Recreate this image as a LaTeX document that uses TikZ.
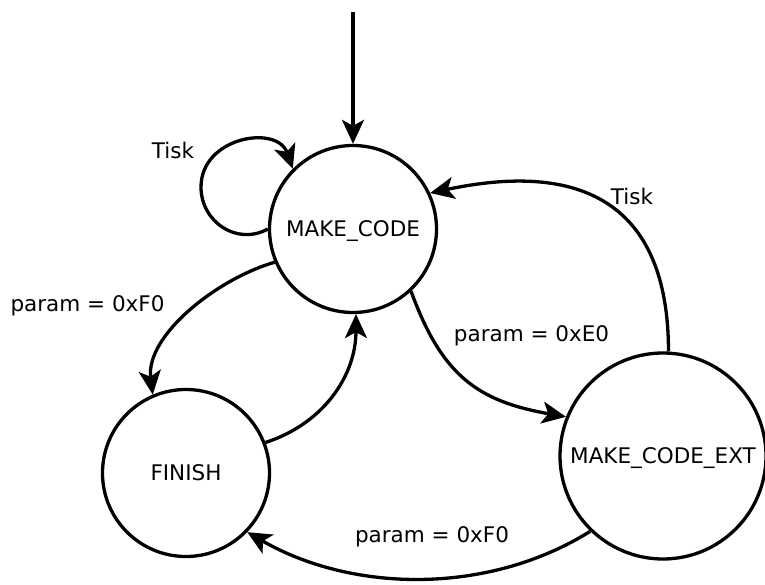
\documentclass[tikz,border=0pt]{standalone}
\usepackage{fontspec}
\setmainfont{DejaVu Sans}
\usetikzlibrary{arrows.meta}

\begin{document}
\begin{tikzpicture}[x=1pt,y=1pt,
  state/.style={circle,draw,line width=3.3pt,inner sep=0pt,
    text height=15.7pt,text depth=0pt},
  edge/.style={line width=3.3pt,-{Stealth[length=24pt,width=22pt,inset=6pt]}},
  lbl/.style={anchor=base,inner sep=0pt},
  every node/.append style={font=\fontsize{21.5}{26}\selectfont}]
  \useasboundingbox (0,0) rectangle (765,584);

  % states
  \node[state,minimum size=167pt] (mc)  at (353,355) {MAKE\_CODE};
  \node[state,minimum size=167pt] (fn)  at (186,111) {FINISH};
  \node[state,minimum size=206pt] (ext) at (663,128) {MAKE\_CODE\_EXT};

  % entry arrow
  \coordinate (start) at (353,572);
  \draw[edge] (start) -- (mc);

  % self loop on MAKE_CODE, drawn as two near-circular pieces
  \coordinate (loopw) at (201,397);
  \draw[edge] (mc.180) .. controls (237,338) and (201,362) .. (loopw)
                       .. controls (201,447) and (277,460) .. (mc.135);

  % transitions
  \draw[edge] (mc.203) to[out=196,in=97,looseness=0.85] (fn.113);
  \draw[edge] (fn.21) to[out=18,in=270] (mc.272);
  \draw[edge] (mc.313) to[out=290,in=170,looseness=1.15] (ext.158);
  \draw[edge] (ext.87) to[out=90,in=12,looseness=1.35] (mc.25);
  \draw[edge] (ext.226) to[out=212,in=330,looseness=0.9] (fn.316);

  % transition labels
  \node[lbl] (l1) at (173,425) {Tisk};
  \node[lbl] (l2) at (632,379) {Tisk};
  \node[lbl] (l3) at (531.5,242) {param = 0xE0};
  \node[lbl] (l4) at (87.5,272.3) {param = 0xF0};
  \node[lbl] (l5) at (432,41.3) {param = 0xF0};
\end{tikzpicture}
\end{document}
